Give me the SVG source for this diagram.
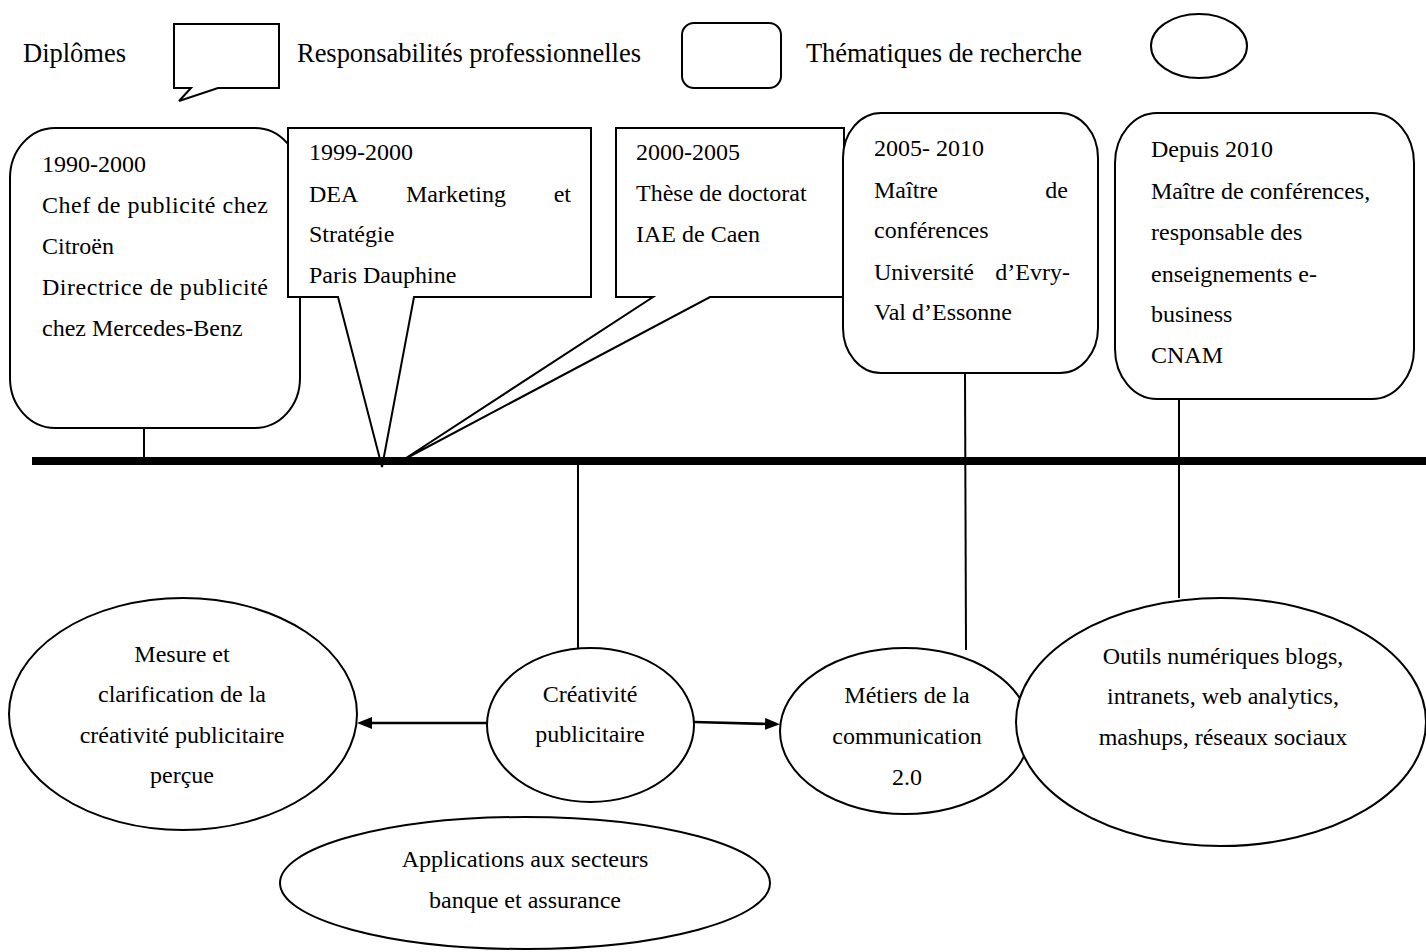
<svg xmlns="http://www.w3.org/2000/svg" width="1426" height="952" viewBox="0 0 1426 952">
<style>
.shape{fill:#fff;stroke:#000;stroke-width:2}
.conn{fill:none;stroke:#000;stroke-width:2}
.arrow{fill:none;stroke:#000;stroke-width:2.6}
.timeline{fill:none;stroke:#000;stroke-width:8}
text{font-family:"Liberation Serif","Times New Roman",serif;font-size:24px;fill:#000}
.lg{font-size:26.5px}
.c{text-anchor:middle}
.e{text-anchor:end}
</style>
<defs>
<marker id="ah" markerUnits="userSpaceOnUse" markerWidth="15" markerHeight="12" viewBox="0 0 15 12" refX="4" refY="6" orient="auto">
<path d="M0,0 L15,6 L0,12 Z" fill="#000"/>
</marker>
</defs>
<rect width="1426" height="952" fill="#fff"/>

<g id="legend">
<text class="lg" x="23" y="62" textLength="103">Diplômes</text>
<path class="shape" d="M174,24 H279 V88 H218 L179,101 L191,88 H174 Z"/>
<text class="lg" x="297" y="62" textLength="344">Responsabilités professionnelles</text>
<rect class="shape" x="682" y="23" width="99" height="65" rx="12"/>
<text class="lg" x="806" y="62" textLength="276">Thématiques de recherche</text>
<ellipse class="shape" cx="1199" cy="46" rx="48" ry="32"/>
</g>

<g id="node-1990">
<rect class="shape" x="10" y="128" width="290" height="300" rx="45" ry="50"/>
<text x="42" y="172">1990-2000</text>
<text x="42" y="213" textLength="226">Chef de publicité chez</text>
<text x="42" y="254">Citroën</text>
<text x="42" y="295" textLength="226">Directrice de publicité</text>
<text x="42" y="336">chez Mercedes-Benz</text>
</g>

<g id="connectors-top">
<line class="conn" x1="144" y1="428" x2="144" y2="459"/>
</g>

<g id="node-1999">
<path class="shape" d="M288,128 H591 V297 H414 L382,467 L338,297 H288 Z"/>
<text x="309" y="160">1999-2000</text>
<text x="309" y="202">DEA</text>
<text x="406" y="202">Marketing</text>
<text class="e" x="571" y="202">et</text>
<text x="309" y="242">Stratégie</text>
<text x="309" y="283">Paris Dauphine</text>
</g>

<g id="node-2000">
<path class="shape" d="M616,128 H844 V297 H710 L403,460 L653,297 H616 Z"/>
<text x="636" y="160">2000-2005</text>
<text x="636" y="201">Thèse de doctorat</text>
<text x="636" y="242">IAE de Caen</text>
</g>

<g id="node-2005">
<rect class="shape" x="843" y="113" width="255" height="260" rx="38" ry="45"/>
<text x="874" y="156">2005- 2010</text>
<text x="874" y="198">Maître</text>
<text class="e" x="1068" y="198">de</text>
<text x="874" y="238">conférences</text>
<text x="874" y="280">Université</text>
<text class="e" x="1070" y="280">d’Evry-</text>
<text x="874" y="320">Val d’Essonne</text>
</g>

<g id="node-2010">
<rect class="shape" x="1115" y="113" width="299" height="286" rx="42" ry="50"/>
<text x="1151" y="157">Depuis 2010</text>
<text x="1151" y="199">Maître de conférences,</text>
<text x="1151" y="240">responsable des</text>
<text x="1151" y="282">enseignements e-</text>
<text x="1151" y="322">business</text>
<text x="1151" y="363">CNAM</text>
</g>

<g id="timeline">
<line class="timeline" x1="32" y1="461" x2="1426" y2="461"/>
</g>

<g id="connectors">
<line class="conn" x1="578" y1="461" x2="578" y2="648"/>
<line class="conn" x1="965" y1="373" x2="966" y2="650"/>
<line class="conn" x1="1179" y1="399" x2="1179" y2="598"/>
<line class="arrow" x1="487" y1="723" x2="368" y2="723" marker-end="url(#ah)"/>
<line class="arrow" x1="694" y1="722" x2="769" y2="724" marker-end="url(#ah)"/>
</g>

<g id="theme-mesure">
<ellipse class="shape" cx="183" cy="714" rx="174" ry="116"/>
<text class="c" x="182" y="662">Mesure et</text>
<text class="c" x="182" y="702">clarification de la</text>
<text class="c" x="182" y="743">créativité publicitaire</text>
<text class="c" x="182" y="783">perçue</text>
</g>

<g id="theme-creativite">
<ellipse class="shape" cx="590.5" cy="725" rx="103.5" ry="77"/>
<text class="c" x="590" y="702">Créativité</text>
<text class="c" x="590" y="742">publicitaire</text>
</g>

<g id="theme-metiers">
<ellipse class="shape" cx="905" cy="731" rx="125" ry="83"/>
<text class="c" x="907" y="703">Métiers de la</text>
<text class="c" x="907" y="744">communication</text>
<text class="c" x="907" y="785">2.0</text>
</g>

<g id="theme-outils">
<ellipse class="shape" cx="1221" cy="722" rx="205" ry="124"/>
<text class="c" x="1223" y="664">Outils numériques blogs,</text>
<text class="c" x="1223" y="704">intranets, web analytics,</text>
<text class="c" x="1223" y="745">mashups, réseaux sociaux</text>
</g>

<g id="theme-applications">
<ellipse class="shape" cx="525" cy="883" rx="245" ry="66"/>
<text class="c" x="525" y="867">Applications aux secteurs</text>
<text class="c" x="525" y="908">banque et assurance</text>
</g>
</svg>
